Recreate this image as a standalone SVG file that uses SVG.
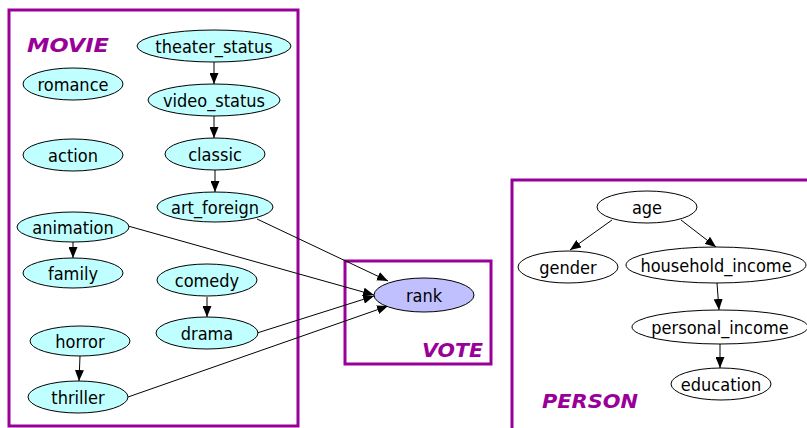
<svg xmlns="http://www.w3.org/2000/svg" width="807" height="428" viewBox="0 0 807 428">
<defs>
<style>
.box{fill:none;stroke:#990099;stroke-width:3}
.lbl{font-family:"DejaVu Sans","Liberation Sans",sans-serif;font-weight:bold;font-style:italic;font-size:20px;fill:#990099}
.n ellipse{stroke:#000;stroke-width:1}
.m ellipse{fill:#c0ffff}
.v ellipse{fill:#c0c0ff}
.p ellipse{fill:#fff}
.n text{font-family:"DejaVu Sans Condensed","DejaVu Sans",sans-serif;font-size:18px;fill:#000;text-anchor:middle}
.e line{stroke:#000;stroke-width:1;marker-end:url(#ah)}
</style>
<marker id="ah" markerUnits="userSpaceOnUse" markerWidth="11" markerHeight="9" refX="11" refY="4.5" orient="auto"><path d="M0,0 L11,4.5 L0,9 z" fill="#000"/></marker>
</defs>
<rect width="807" height="428" fill="#fff"/>
<g id="clusters">
<rect class="box" x="9" y="10" width="289" height="416"/>
<text class="lbl" x="27" y="52" textLength="82" lengthAdjust="spacingAndGlyphs">MOVIE</text>
<rect class="box" x="345" y="261" width="146" height="103"/>
<text class="lbl" x="422" y="357" textLength="61" lengthAdjust="spacingAndGlyphs">VOTE</text>
<rect class="box" x="512" y="180" width="300" height="260"/>
<text class="lbl" x="542" y="408" textLength="96" lengthAdjust="spacingAndGlyphs">PERSON</text>
</g>
<g id="edges" class="e">
<line x1="214" y1="62" x2="214" y2="84"/>
<line x1="214" y1="116" x2="214" y2="138"/>
<line x1="215" y1="170" x2="215" y2="192"/>
<line x1="73" y1="242" x2="73" y2="258"/>
<line x1="207" y1="297" x2="207" y2="317"/>
<line x1="80" y1="356" x2="79" y2="381"/>
<line x1="257" y1="219" x2="388" y2="281"/>
<line x1="128" y1="226" x2="374" y2="295"/>
<line x1="257" y1="333" x2="374" y2="296"/>
<line x1="128" y1="397" x2="388" y2="306"/>
<line x1="612" y1="220" x2="570" y2="250"/>
<line x1="681" y1="220" x2="716" y2="247"/>
<line x1="717" y1="283" x2="719" y2="310"/>
<line x1="720" y1="344" x2="720" y2="368"/>
</g>
<g id="theater_status" class="n m"><ellipse cx="214" cy="46" rx="77" ry="16"/><text x="214" y="53">theater_status</text></g>
<g id="video_status" class="n m"><ellipse cx="214" cy="100" rx="66" ry="16"/><text x="214" y="107">video_status</text></g>
<g id="classic" class="n m"><ellipse cx="215" cy="154" rx="50" ry="16"/><text x="215" y="161">classic</text></g>
<g id="art_foreign" class="n m"><ellipse cx="215" cy="207" rx="58" ry="15"/><text x="215" y="214">art_foreign</text></g>
<g id="romance" class="n m"><ellipse cx="73" cy="84" rx="50" ry="16"/><text x="73" y="91">romance</text></g>
<g id="action" class="n m"><ellipse cx="73" cy="155" rx="50" ry="16"/><text x="73" y="162">action</text></g>
<g id="animation" class="n m"><ellipse cx="73" cy="227" rx="56" ry="15"/><text x="73" y="234">animation</text></g>
<g id="family" class="n m"><ellipse cx="73" cy="273" rx="50" ry="15"/><text x="73" y="280">family</text></g>
<g id="comedy" class="n m"><ellipse cx="207" cy="280" rx="50" ry="16"/><text x="207" y="287">comedy</text></g>
<g id="drama" class="n m"><ellipse cx="207" cy="333" rx="51" ry="16"/><text x="207" y="340">drama</text></g>
<g id="horror" class="n m"><ellipse cx="80" cy="341" rx="50" ry="15"/><text x="80" y="348">horror</text></g>
<g id="thriller" class="n m"><ellipse cx="78" cy="397" rx="50" ry="16"/><text x="78" y="404">thriller</text></g>
<g id="rank" class="n v"><ellipse cx="424" cy="295" rx="50" ry="17"/><text x="424" y="302">rank</text></g>
<g id="age" class="n p"><ellipse cx="647" cy="207" rx="50" ry="16"/><text x="647" y="214">age</text></g>
<g id="gender" class="n p"><ellipse cx="568" cy="267" rx="50" ry="16"/><text x="568" y="274">gender</text></g>
<g id="household_income" class="n p"><ellipse cx="716" cy="265" rx="90" ry="18"/><text x="716" y="272">household_income</text></g>
<g id="personal_income" class="n p"><ellipse cx="720" cy="327" rx="88" ry="17"/><text x="720" y="334">personal_income</text></g>
<g id="education" class="n p"><ellipse cx="721" cy="384" rx="50" ry="16"/><text x="721" y="391">education</text></g>
</svg>
